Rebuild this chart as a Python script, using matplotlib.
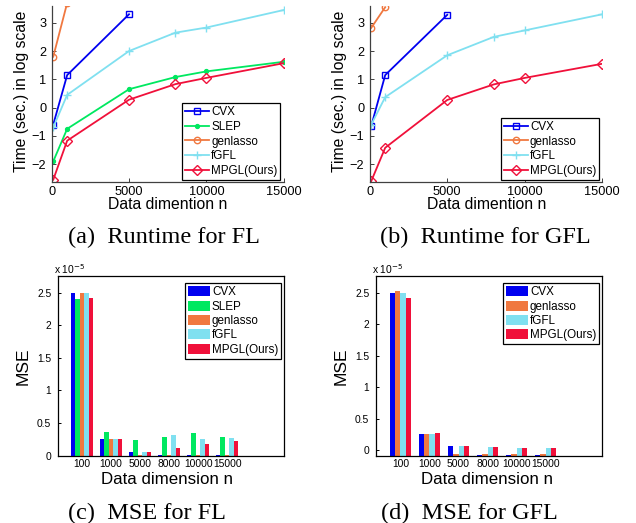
import matplotlib
matplotlib.use("Agg")
import matplotlib.pyplot as plt
from matplotlib.patches import Patch
import numpy as np

# ---------------- data ----------------
n_fl = [100, 1000, 5000, 8000, 10000, 15000]
# runtime (log scale) for FL
rt_fl_cvx = [-0.6, 1.15, 3.3]
rt_fl_slep = [-1.9, -0.75, 0.65, 1.08, 1.28, 1.62]
rt_fl_genlasso = [1.8, 3.7]
rt_fl_fgfl = [-0.7, 0.45, 2.0, 2.65, 2.83, 3.45]
rt_fl_mpgl = [-2.55, -1.17, 0.28, 0.83, 1.05, 1.57]
# runtime (log scale) for GFL
rt_gfl_cvx = [-0.65, 1.15, 3.28]
rt_gfl_genlasso = [2.82, 3.55]
rt_gfl_fgfl = [-0.6, 0.37, 1.85, 2.5, 2.73, 3.3]
rt_gfl_mpgl = [-2.6, -1.42, 0.27, 0.82, 1.05, 1.55]

# MSE (x 1e-5)
dim_labels = ['100', '1000', '5000', '8000', '10000', '15000']
mse_fl_cvx = [2.50, 0.256, 0.056, 0.005, 0.005, 0.005]
mse_fl_slep = [2.40, 0.368, 0.24, 0.286, 0.348, 0.286]
mse_fl_genlasso = [2.50, 0.256, 0.012, 0.012, 0.012, 0.012]
mse_fl_fgfl = [2.495, 0.256, 0.056, 0.32, 0.256, 0.27]
mse_fl_mpgl = [2.42, 0.256, 0.056, 0.123, 0.179, 0.22]

mse_gfl_cvx = [2.50, 0.26, 0.064, -0.075, -0.075, -0.075]
mse_gfl_genlasso = [2.526, 0.26, -0.066, -0.066, -0.066, -0.066]
mse_gfl_fgfl = [2.50, 0.26, 0.064, 0.048, 0.037, 0.033]
mse_gfl_mpgl = [2.415, 0.27, 0.064, 0.048, 0.037, 0.033]

# ---------------- style ----------------
C_CVX = '#0000f0'
C_SLEP = '#00e860'
C_GEN = '#f07840'
C_FGFL = '#80e0f0'
C_MPGL = '#f0103a'

SANS = ['Liberation Sans', 'DejaVu Sans']
SERIF = ['Liberation Serif', 'DejaVu Serif']
plt.rcParams['font.family'] = SANS

W, H = 636, 523
fig = plt.figure(figsize=(W / 100, H / 100), dpi=100)


def ax_rect(l, t, r, b):
    return [l / W, 1 - b / H, (r - l) / W, (b - t) / H]


TICK_FS = 9.2
BAR_TICK_FS = 7.4
LAB_FS = 11.3
LEG_FS = 8.4
CAP_FS = 17.5
LW = 1.3


def style_line_axes(ax):
    for s in ['top', 'right']:
        ax.spines[s].set_visible(False)
    for s in ['left', 'bottom']:
        ax.spines[s].set_color('#404040')
        ax.spines[s].set_linewidth(0.9)
    ax.tick_params(direction='in', length=3, width=0.7, labelsize=TICK_FS,
                   colors='#404040', labelcolor='black', pad=4)
    ax.tick_params(axis='x', pad=3)
    ax.set_xlim(0, 15000)
    ax.set_ylim(-2.62, 3.61)
    ax.set_xticks([0, 5000, 10000, 15000])
    ax.set_yticks([-2, -1, 0, 1, 2, 3])
    ax.set_xlabel('Data dimention n', fontsize=LAB_FS, va='center')
    ax.set_ylabel('Time (sec.) in log scale', fontsize=LAB_FS, va='center')


def line(ax, xs, ys, color, marker, ms, label, mfc='none', mew=1.0):
    ax.plot(xs, ys, color=color, lw=LW, marker=marker, ms=ms, mfc=mfc,
            mec=color, mew=mew, label=label, clip_on=True)


# ---------- (a) ----------
axa = fig.add_axes(ax_rect(51.7, 5.5, 283.7, 181.7))
line(axa, n_fl[:3], rt_fl_cvx, C_CVX, 's', 4.3, 'CVX')
line(axa, n_fl, rt_fl_slep, C_SLEP, 'o', 2.8, 'SLEP', mfc=C_SLEP)
line(axa, n_fl[:2], rt_fl_genlasso, C_GEN, 'o', 4.6, 'genlasso')
line(axa, n_fl, rt_fl_fgfl, C_FGFL, '+', 5.5, 'fGFL')
line(axa, n_fl, rt_fl_mpgl, C_MPGL, 'D', 4.8, 'MPGL(Ours)')
style_line_axes(axa)
axa.xaxis.set_label_coords(0.501, -0.132)
axa.yaxis.set_label_coords(-0.129, 0.515)
lg = axa.legend(loc='lower right', bbox_to_anchor=(0.985, 0.012), fontsize=LEG_FS,
                frameon=True, fancybox=False, edgecolor='black', framealpha=1,
                handlelength=2.0, handletextpad=0.2, labelspacing=0.22,
                borderpad=0.25, borderaxespad=0)
lg.get_frame().set_linewidth(0.9)

# ---------- (b) ----------
axb = fig.add_axes(ax_rect(369.7, 5.5, 602.3, 181.7))
line(axb, n_fl[:3], rt_gfl_cvx, C_CVX, 's', 4.3, 'CVX')
line(axb, n_fl[:2], rt_gfl_genlasso, C_GEN, 'o', 4.6, 'genlasso')
line(axb, n_fl, rt_gfl_fgfl, C_FGFL, '+', 5.5, 'fGFL')
line(axb, n_fl, rt_gfl_mpgl, C_MPGL, 'D', 4.8, 'MPGL(Ours)')
style_line_axes(axb)
axb.xaxis.set_label_coords(0.503, -0.132)
axb.yaxis.set_label_coords(-0.129, 0.515)
lg = axb.legend(loc='lower right', bbox_to_anchor=(0.986, 0.012), fontsize=LEG_FS,
                frameon=True, fancybox=False, edgecolor='black', framealpha=1,
                handlelength=2.0, handletextpad=0.2, labelspacing=0.22,
                borderpad=0.25, borderaxespad=0)
lg.get_frame().set_linewidth(0.9)


# ---------- bar panels ----------
def bar_panel(rect, series, colors, names, ylim, xlim, xlab_x, sci_x):
    ax = fig.add_axes(rect)
    nser = len(series)
    gw = min(0.8, nser / (nser + 1.5))
    bw = gw / nser
    pos = np.arange(1, len(dim_labels) + 1)
    base = ylim[0]
    for i, (vals, c, nm) in enumerate(zip(series, colors, names)):
        off = -gw / 2 + bw * (i + 0.5)
        v = np.array(vals)
        ax.bar(pos + off, v - base, bottom=base, width=bw, color=c,
               edgecolor='none', label=nm, linewidth=0)
    ax.set_xlim(*xlim)
    ax.set_ylim(*ylim)
    ax.set_xticks(pos)
    ax.set_xticklabels(dim_labels)
    ax.set_yticks([0, 0.5, 1, 1.5, 2, 2.5])
    ax.set_yticklabels(['0', '0.5', '1', '1.5', '2', '2.5'])
    ax.tick_params(direction='in', length=2.5, width=0.7, labelsize=BAR_TICK_FS,
                   pad=5)
    ax.tick_params(axis='x', pad=2.5, length=0)
    for s in ax.spines.values():
        s.set_color('black')
        s.set_linewidth(0.9)
    ax.set_xlabel('Data dimension n', fontsize=12.2, va='center')
    ax.set_ylabel('MSE', fontsize=12.5, va='center')
    ax.xaxis.set_label_coords(xlab_x, -0.132)
    ax.yaxis.set_label_coords(-0.155, 0.498)
    handles = [Patch(facecolor=c, edgecolor='none') for c in colors]
    lg = ax.legend(handles, names, loc='upper right',
                   bbox_to_anchor=(0.986, 0.958), fontsize=LEG_FS,
                   frameon=True, fancybox=False, edgecolor='black', framealpha=1,
                   handlelength=1.85, handleheight=0.95, handletextpad=0.2,
                   labelspacing=0.2, borderpad=0.25, borderaxespad=0)
    lg.get_frame().set_linewidth(0.9)
    fig.text(sci_x / W, 1 - 273.5 / H, r'x 10$^{-5}$', fontsize=7.4,
             ha='left', va='baseline')
    return ax


bar_panel(ax_rect(58.3, 275.7, 284.3, 455.7),
          [mse_fl_cvx, mse_fl_slep, mse_fl_genlasso, mse_fl_fgfl, mse_fl_mpgl],
          [C_CVX, C_SLEP, C_GEN, C_FGFL, C_MPGL],
          ['CVX', 'SLEP', 'genlasso', 'fGFL', 'MPGL(Ours)'],
          (0, 2.76), (0.18, 7.97), 0.48, 53.5)

bar_panel(ax_rect(376.3, 275.7, 602.3, 455.7),
          [mse_gfl_cvx, mse_gfl_genlasso, mse_gfl_fgfl, mse_gfl_mpgl],
          [C_CVX, C_GEN, C_FGFL, C_MPGL],
          ['CVX', 'genlasso', 'fGFL', 'MPGL(Ours)'],
          (-0.09, 2.77), (0.17, 7.95), 0.49, 371.5)

# ---------- captions ----------
caps = [('(a)  Runtime for FL', 68.3, 243.5),
        ('(b)  Runtime for GFL', 379.7, 243.5),
        ('(c)  MSE for FL', 68.3, 519.5),
        ('(d)  MSE for GFL', 381.3, 519.5)]
for txt, x, y in caps:
    fig.text(x / W, 1 - y / H, txt, fontsize=CAP_FS, family=SERIF,
             ha='left', va='baseline')

fig.savefig('out.png', dpi=100)
